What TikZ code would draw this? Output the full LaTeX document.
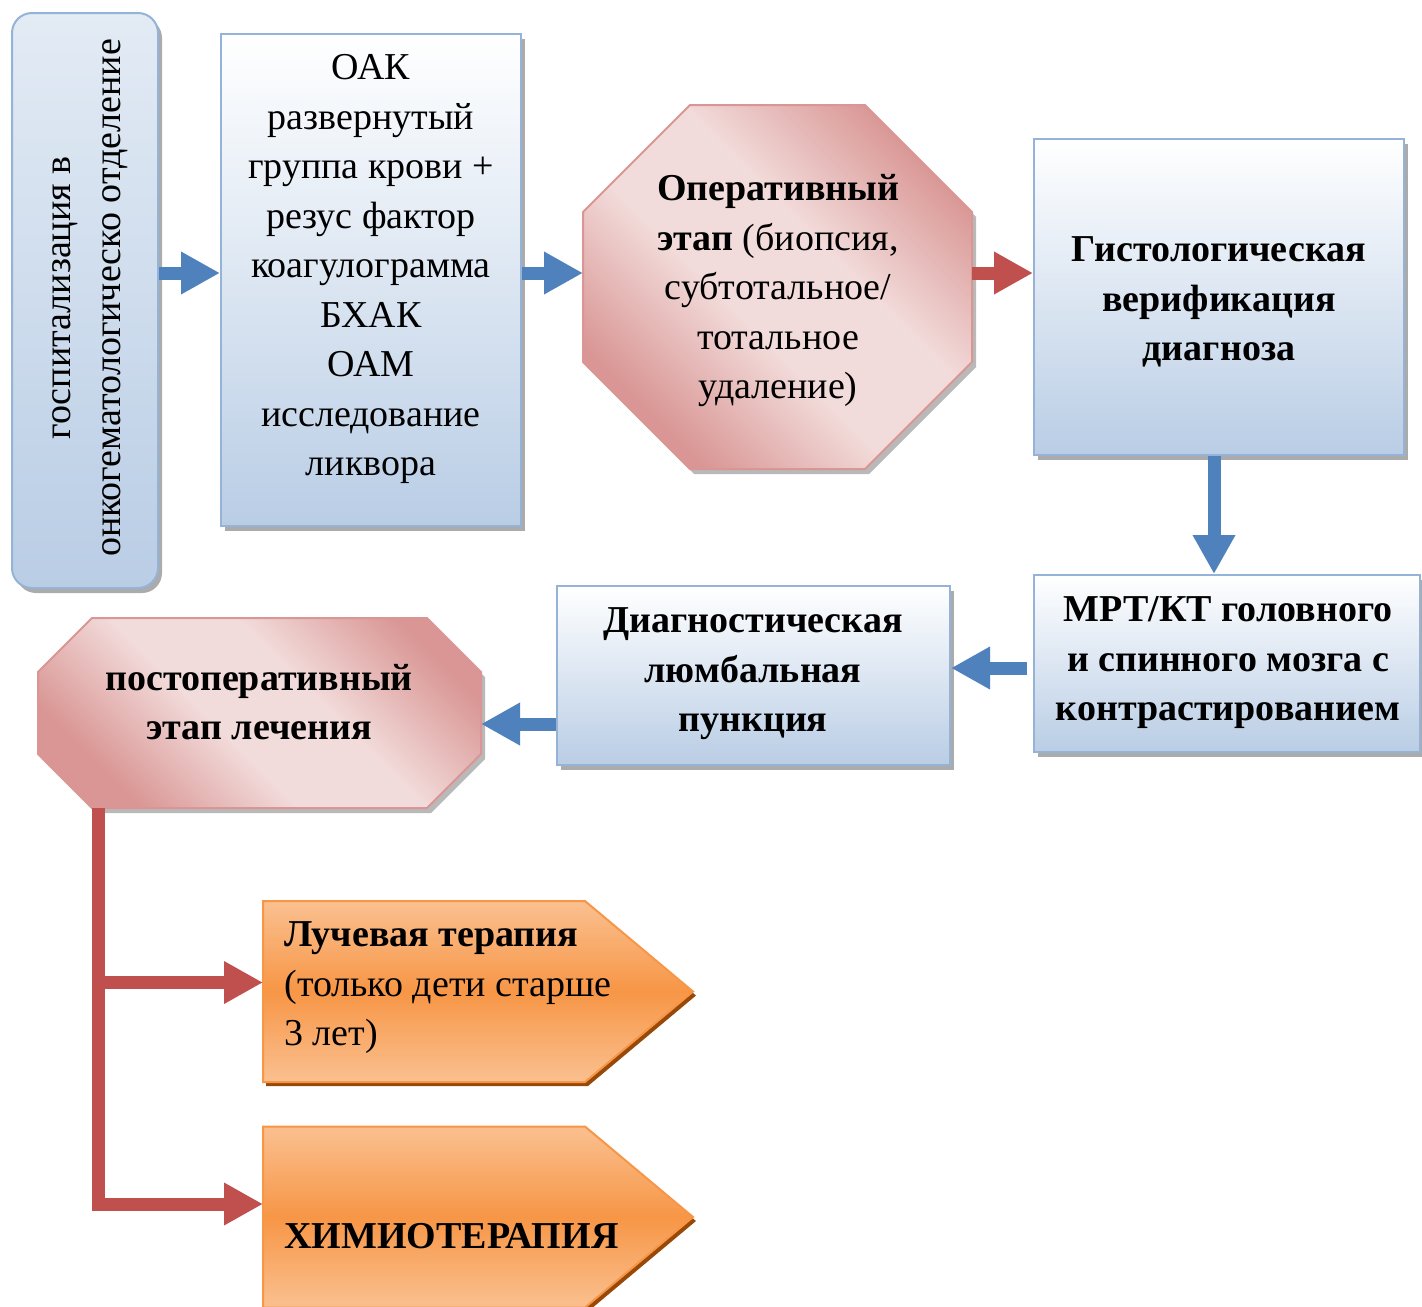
\documentclass[tikz,border=0pt]{standalone}
\usepackage{fontspec}
\setmainfont{Liberation Serif}
\usetikzlibrary{arrows.meta,shadows,calc}

\definecolor{boxline}{HTML}{95B3D7}
\definecolor{boxfill}{HTML}{B9CDE5}
\definecolor{pinkdark}{HTML}{D99694}
\definecolor{pinklight}{HTML}{F2DCDB}
\definecolor{pinkline}{HTML}{D99694}
\definecolor{orangemid}{HTML}{F79646}
\definecolor{orangelight}{HTML}{FAC090}
\definecolor{orangeshadow}{HTML}{984807}
\definecolor{bluearr}{HTML}{4F81BD}
\definecolor{redarr}{HTML}{C0504D}

\pgfdeclareverticalshading{pinkdiag}{100bp}{color(0bp)=(pinkdark); color(26bp)=(pinkdark); color(44bp)=(pinklight); color(58bp)=(pinklight); color(76bp)=(pinkdark); color(100bp)=(pinkdark)}

\tikzset{
  bluebox/.style={draw=boxline, line width=1pt, top color=white, bottom color=boxfill,
    drop shadow={shadow xshift=2pt, shadow yshift=-2.5pt, fill=black!55, opacity=.6}},
  frame/.style={inner sep=0pt, outer sep=0pt},
  pinkshape/.style={draw=pinkline, line width=1pt, shade, shading=pinkdiag, shading angle=-45,
    drop shadow={shadow xshift=2pt, shadow yshift=-2.5pt, fill=black!55, opacity=.5}},
  orangeshape/.style={draw=orangemid, line width=1pt, top color=orangelight, bottom color=orangelight, middle color=orangemid,
    drop shadow={shadow xshift=1.5pt, shadow yshift=-2pt, fill=orangeshadow, opacity=1}},
  txt/.style={align=center, inner sep=0pt, font=\fontsize{19}{24.75}\selectfont},
  boldtxt/.style={txt, font=\fontsize{19}{24.75}\selectfont\bfseries},
  bluearrow/.style={draw=bluearr, line width=6.5pt, -{Triangle[width=20pt,length=19.5pt]}, bluearr},
  redarrow/.style={draw=redarr, line width=6.5pt, -{Triangle[width=20pt,length=19.5pt]}, redarr},
}

\begin{document}
\begin{tikzpicture}[x=0.5pt, y=-0.5pt]
  \useasboundingbox (0,0) rectangle (1422,1306);

  % upper row
  \node[bluebox, rounded corners=10pt, top color=boxfill!40, minimum width=73pt, minimum height=287.5pt] (hosp) at (85,300.5) {};
  \node[txt, rotate=90] (hosp-txt) at (90,298) {госпитализация в\\онкогематологическо отделение};

  \node[bluebox, minimum width=150pt, minimum height=246pt] (oak) at (371,280) {};
  \node[txt] (oak-txt) at (371,269) {ОАК\\развернутый\\группа крови +\\резус фактор\\коагулограмма\\БХАК\\ОАМ\\исследование\\ликвора};

  \node[frame, minimum width=194.5pt, minimum height=182.5pt] (oper) at (777.5,287) {};
  \draw[pinkshape] (690,105) -- (865,105) -- (972,212) -- (972,362) -- (865,469) -- (690,469) -- (583,362) -- (583,212) -- cycle;
  \node[txt] (oper-txt) at (778,291) {\textbf{Оперативный}\\\textbf{этап} (биопсия,\\субтотальное/\\тотальное\\удаление)};

  \node[bluebox, minimum width=185pt, minimum height=158pt] (hist) at (1219,297) {};
  \node[boldtxt] (hist-txt) at (1219,302) {Гистологическая\\верификация\\диагноза};

  % middle row
  \node[bluebox, minimum width=193pt, minimum height=88.5pt] (mrt) at (1227,663.5) {};
  \node[boldtxt] (mrt-txt) at (1228,663) {МРТ/КТ головного\\и спинного мозга с\\контрастированием};

  \node[bluebox, minimum width=196.5pt, minimum height=89.5pt] (diag) at (753.5,675.5) {};
  \node[boldtxt] (diag-txt) at (753,674) {Диагностическая\\люмбальная\\пункция};

  \node[frame, minimum width=221.5pt, minimum height=95pt] (postop) at (259.5,713) {};
  \draw[pinkshape] (92,618) -- (427,618) -- (481,672) -- (481,754) -- (427,808) -- (92,808) -- (38,754) -- (38,672) -- cycle;
  \node[boldtxt] (postop-txt) at (259,702) {постоперативный\\этап лечения};

  % lower row
  \node[frame, minimum width=161pt, minimum height=90.5pt] (luch) at (424,991.5) {};
  \draw[orangeshape] (luch.north west) -- (luch.north east) -- ($(luch.east)+(108,0)$) -- (luch.south east) -- (luch.south west) -- cycle;
  \node[txt, anchor=west, align=left] (luch-txt) at (284,988) {\textbf{Лучевая терапия}\\(только дети старше\\3 лет)};

  \node[frame, minimum width=161pt, minimum height=90.5pt] (chemo) at (424,1217) {};
  \draw[orangeshape] (chemo.north west) -- (chemo.north east) -- ($(chemo.east)+(108,0)$) -- (chemo.south east) -- (chemo.south west) -- cycle;
  \node[boldtxt, anchor=west] (chemo-txt) at (284,1236) {ХИМИОТЕРАПИЯ};

  % connectors
  \coordinate (row) at (0,273);
  \coordinate (row2) at (0,724);
  \draw[bluearrow] (hosp.east |- row) -- (oak.west |- row);
  \draw[bluearrow] (oak.east |- row) -- (oper.west |- row);
  \draw[redarrow] (oper.east |- row) -- (hist.west |- row);
  \draw[bluearrow] ([xshift=-2.5pt]hist.south) -- ([xshift=-2.5pt]hist.south |- mrt.north);
  \draw[bluearrow] ([xshift=-3pt,yshift=-2.25pt]mrt.west) -- ([yshift=-2.25pt]mrt.west -| diag.east);
  \draw[bluearrow] (diag.west |- row2) -- (postop.east |- row2);
  \coordinate (trunk) at ($(postop.south west)+(60.5,0)$);
  \draw[redarrow] (trunk) |- ([yshift=4.5pt]luch.west);
  \draw[redarrow] (trunk) |- ([yshift=6.5pt]chemo.west);
\end{tikzpicture}
\end{document}
